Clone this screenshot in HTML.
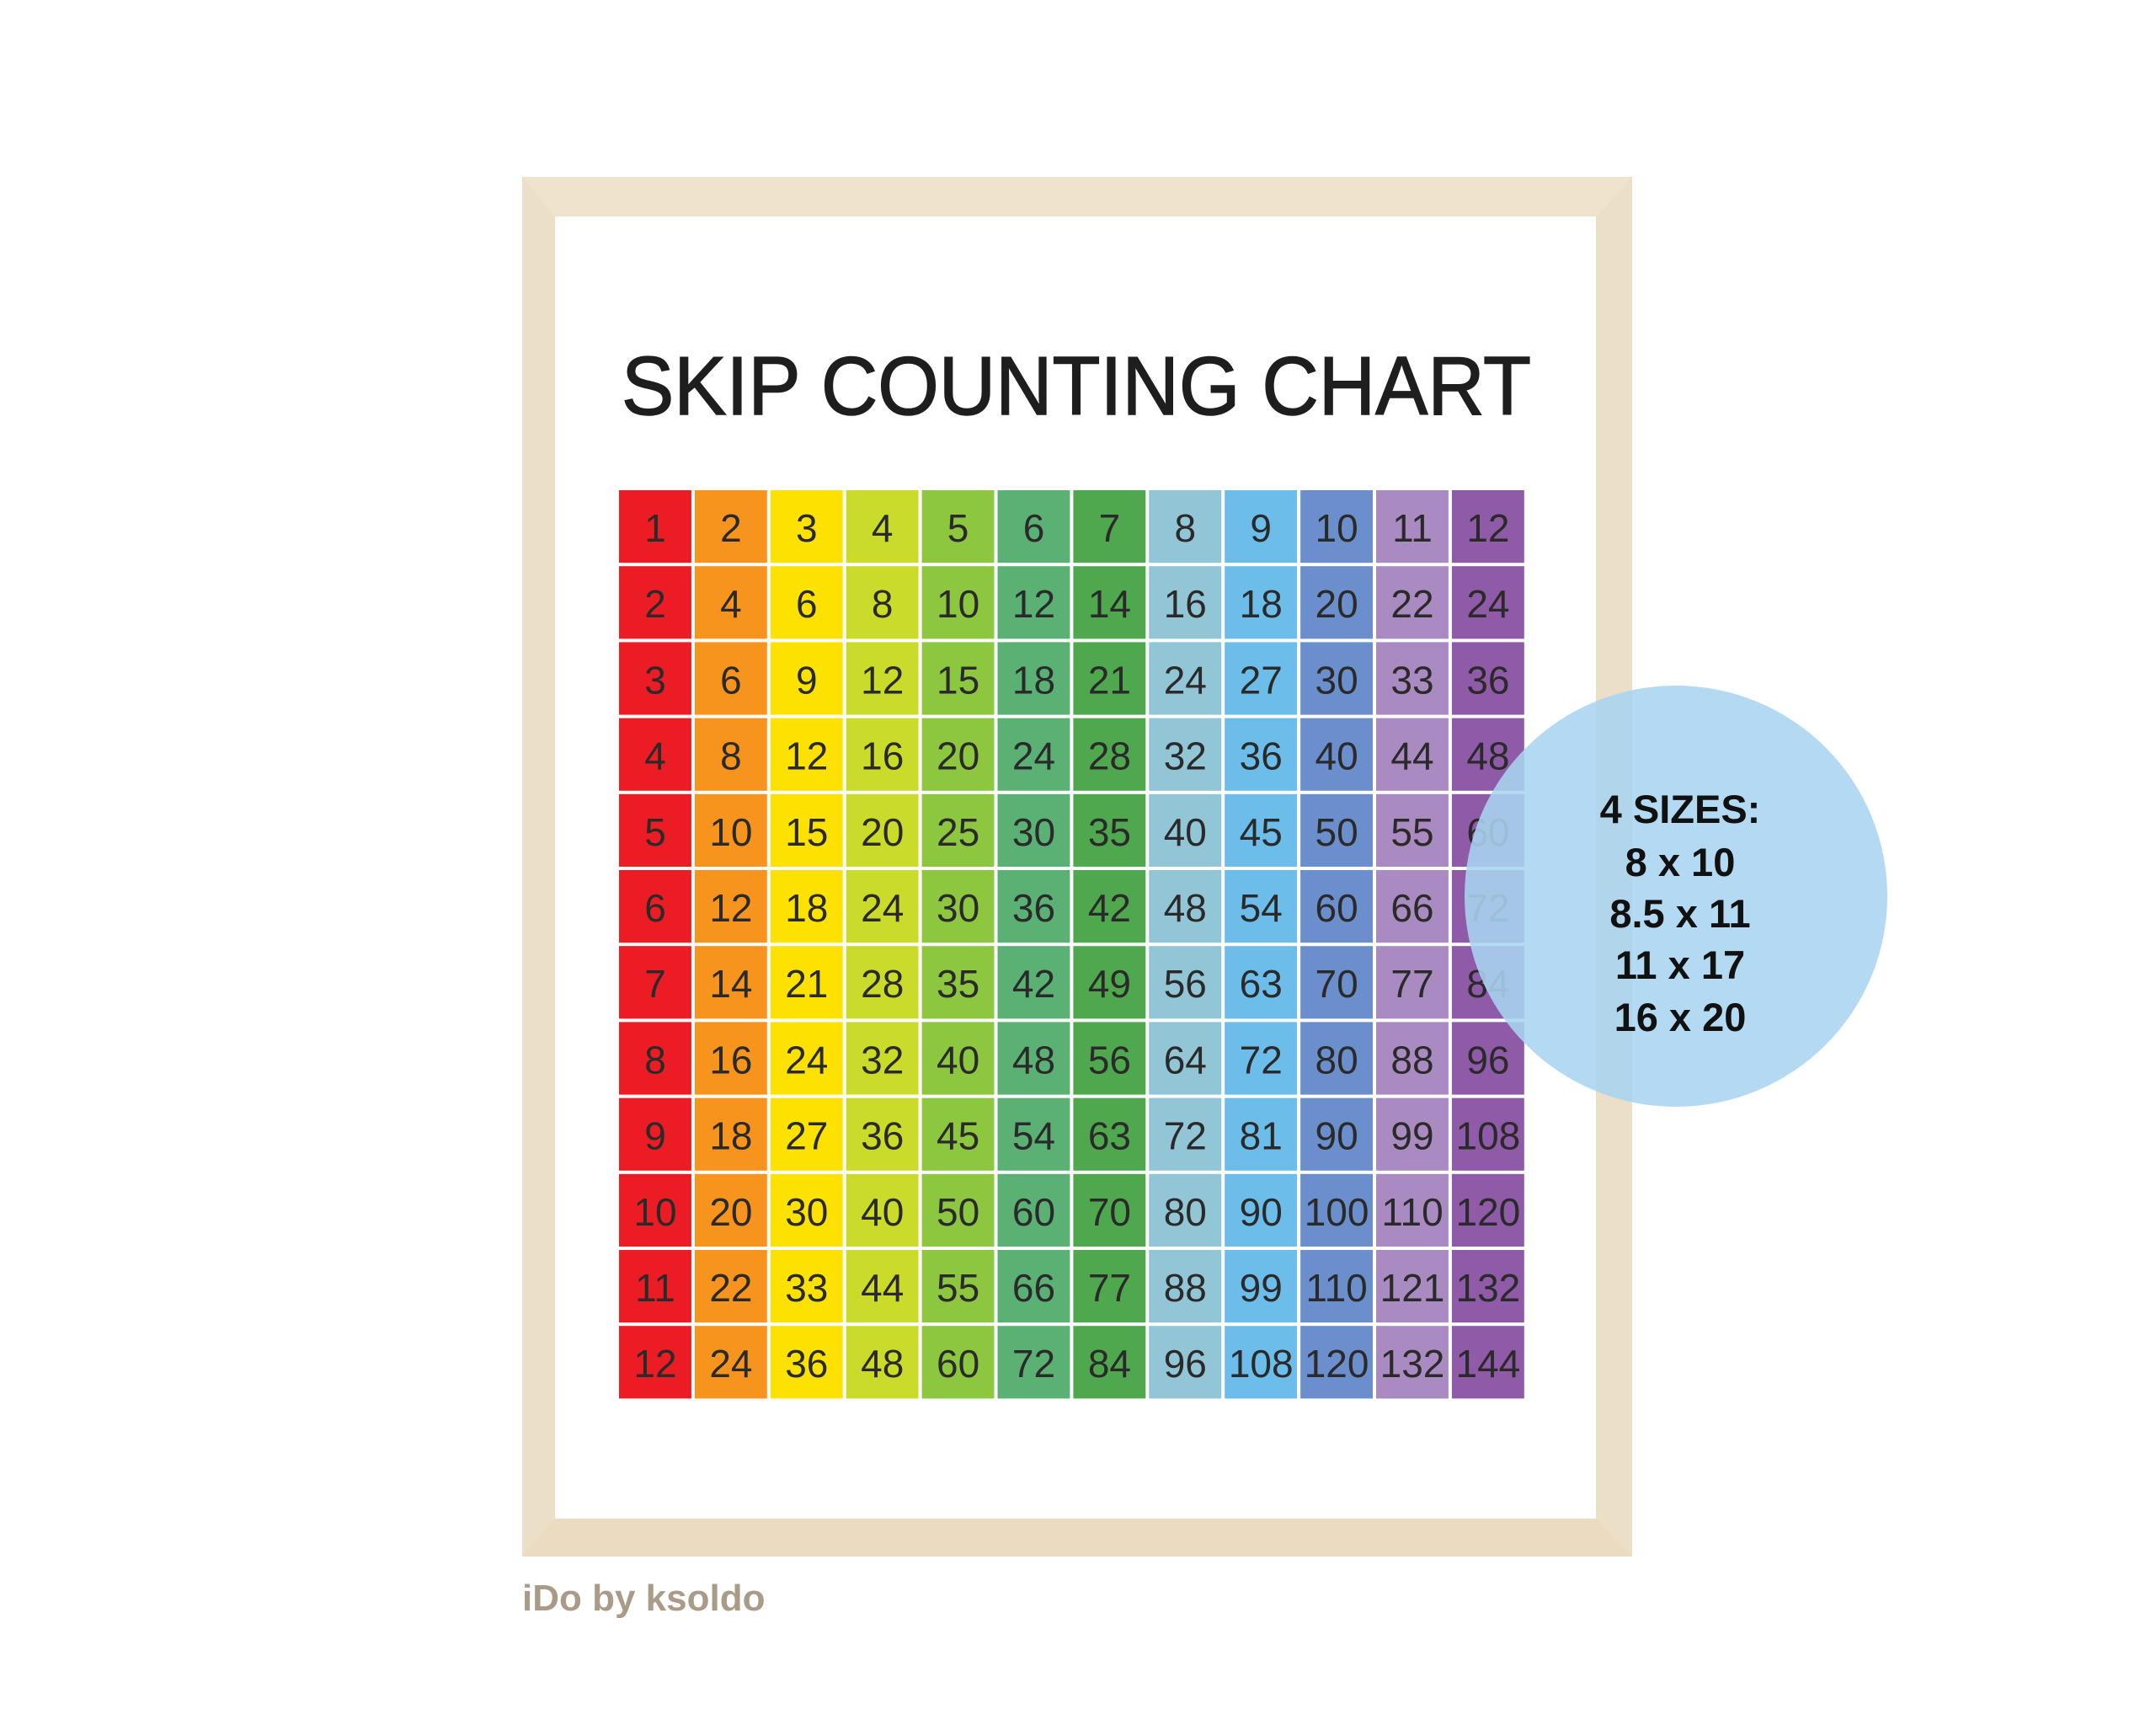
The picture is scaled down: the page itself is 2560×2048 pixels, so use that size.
<!DOCTYPE html>
<html><head><meta charset="utf-8"><style>
html,body{margin:0;padding:0;background:#fff;}
svg{display:block;}
</style></head><body>
<svg width="2560" height="2048" viewBox="0 0 2560 2048" xmlns="http://www.w3.org/2000/svg">
<rect width="2560" height="2048" fill="#fff"/>
<rect x="620" y="210" width="1318" height="1638" fill="#ecdfc8"/>
<polygon points="620,210 1938,210 1895,257 659,257" fill="#f0e3ce"/>
<polygon points="620,1848 1938,1848 1895,1803 659,1803" fill="#eadbc1"/>
<rect x="659" y="257" width="1236" height="1546" fill="#fff"/>
<text x="738" y="492" font-family="Liberation Sans, sans-serif" font-size="98" fill="#1e1e1e" stroke="#1e1e1e" stroke-width="1.5" textLength="1080" lengthAdjust="spacingAndGlyphs">SKIP COUNTING CHART</text>
<g id="grid"></g>
<ellipse cx="1990" cy="1064" rx="251" ry="250" fill="#a9d5f0" fill-opacity="0.88"/>
<g font-family="Liberation Sans, sans-serif" font-weight="bold" font-size="47" fill="#111" text-anchor="middle">
<text x="1995" y="977">4 SIZES:</text>
<text x="1995" y="1040">8  x 10</text>
<text x="1995" y="1101">8.5 x 11</text>
<text x="1995" y="1162">11 x 17</text>
<text x="1995" y="1224">16 x 20</text>
</g>
<text x="620" y="1912" font-family="Liberation Sans, sans-serif" font-weight="bold" font-size="44" fill="#a99b88">iDo by ksoldo</text>
</svg>
<script>
var cols=["#ec1c24","#f7941d","#fde100","#cbdb2a","#8dc63f","#5bb174","#50a84e","#92c5d5","#6cbde9","#6b8fcc","#a98bc1","#8f5aa7"];
var g=document.getElementById('grid'),s="";
for(var r=0;r<12;r++)for(var c=0;c<12;c++){
var x=733+c*89.9,y=580+r*90.2;
s+='<rect x="'+(x+2)+'" y="'+(y+2)+'" width="85.9" height="86.2" fill="'+cols[c]+'"/>';
s+='<text x="'+(x+45)+'" y="'+(y+63)+'" text-anchor="middle" font-family="Liberation Sans, sans-serif" font-size="46" fill="#2a2a2a">'+((r+1)*(c+1))+'</text>';
}
g.innerHTML=s;
</script>
</body></html>
